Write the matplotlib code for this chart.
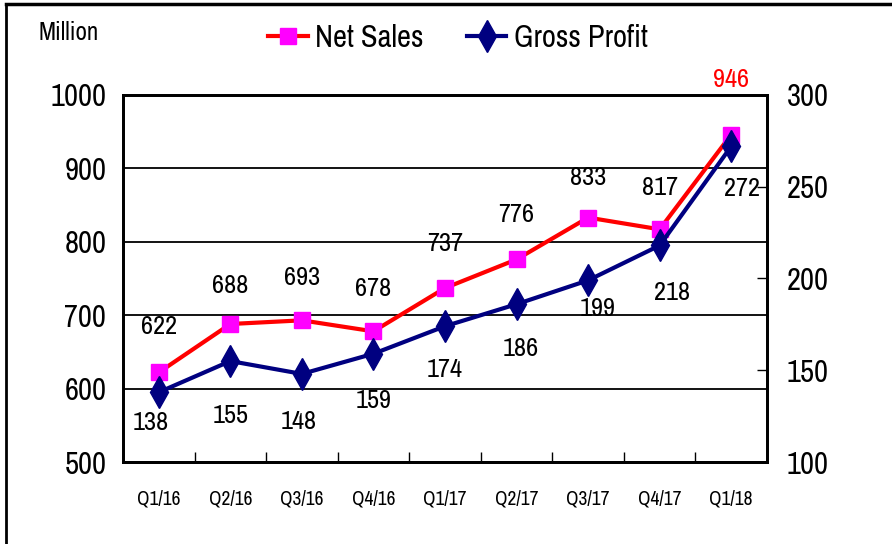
import matplotlib.pyplot as plt
from matplotlib import font_manager
from matplotlib.lines import Line2D

# pick a narrow/condensed face if one is installed (reference uses a condensed font)
names = {f.name for f in font_manager.fontManager.ttflist}
narrow = [f.name for f in font_manager.fontManager.ttflist
          if 'Narrow' in f.name or 'Condensed' in f.name]
stretch = 'normal'
if 'Liberation Sans Narrow' in names:
    family = 'Liberation Sans Narrow'
elif narrow:
    family = sorted(narrow)[0]
else:
    family = 'DejaVu Sans'
plt.rcParams['font.family'] = [family, 'DejaVu Sans']

quarters = ['Q1/16', 'Q2/16', 'Q3/16', 'Q4/16', 'Q1/17', 'Q2/17', 'Q3/17', 'Q4/17', 'Q1/18']
net_sales = [622, 688, 693, 678, 737, 776, 833, 817, 946]
gross_profit = [138, 155, 148, 159, 174, 186, 199, 218, 272]

# label offsets in points (dx, dy)
ns_off = [(0, 33), (0, 28), (0, 31), (0, 31), (0, 32), (0, 32), (0, 29), (0, 30), (0, 40)]
gp_off = [(-6, -22), (0, -39), (-2, -34), (0, -34), (0, -31), (3, -32), (7, -20), (9, -34), (8, -30)]

fig = plt.figure(figsize=(8.92, 5.44), dpi=100)
ax = fig.add_axes([123 / 892, 82 / 544, 644 / 892, 367 / 544])
ax2 = ax.twinx()

x = list(range(len(quarters)))

ax.plot(x, net_sales, color='red', lw=3, marker='s', ms=12,
        mfc='magenta', mec='magenta', zorder=3)
ax2.plot(x, gross_profit, color='#000080', lw=3, marker='d', ms=16,
         mfc='#000080', mec='#000080', zorder=3)

ax.set_xlim(-0.5, len(quarters) - 0.5)
ax.set_ylim(500, 1000)
ax2.set_ylim(100, 300)
ax.set_yticks(range(500, 1001, 100))
ax2.set_yticks(range(100, 301, 50))
ax.grid(axis='y', color='black', lw=1.3)
ax.set_axisbelow(True)

ax.set_xticks(x)
ax.set_xticklabels(quarters, fontsize=14)
ax.set_xticks([i + 0.5 for i in x[:-1]], minor=True)
ax.tick_params(axis='x', which='major', length=0, pad=20)
ax.tick_params(axis='x', which='minor', direction='in', length=7, width=1)
ax.tick_params(axis='y', length=0, labelsize=22, pad=12)
ax2.tick_params(axis='y', direction='in', length=7, width=1, labelsize=22, pad=14)

for a in (ax, ax2):
    for s in a.spines.values():
        s.set_linewidth(2)
        s.set_color('black')

for i, v in enumerate(net_sales):
    ax.annotate(str(v), (i, v), xytext=ns_off[i], textcoords='offset points',
                ha='center', va='center', fontsize=19,
                color='red' if i == len(net_sales) - 1 else 'black')
for i, v in enumerate(gross_profit):
    ax2.annotate(str(v), (i, v), xytext=gp_off[i], textcoords='offset points',
                 ha='center', va='center', fontsize=19)

fig.text(38 / 892, 1 - 33 / 544, 'Million', fontsize=18, va='center')

handles = [
    Line2D([], [], color='red', lw=3, marker='s', ms=12, mfc='magenta', mec='magenta'),
    Line2D([], [], color='#000080', lw=3, marker='d', ms=16, mfc='#000080', mec='#000080'),
]
fig.legend(handles, ['Net Sales', 'Gross Profit'], loc='center', ncol=2,
           bbox_to_anchor=(458 / 892, 1 - 38 / 544), frameon=False, fontsize=22,
           handlelength=1.3, handletextpad=0.25, columnspacing=1.4)

# outer frame (left and top edges visible)
fig.add_artist(Line2D([6 / 892, 6 / 892], [0, 1 - 4 / 544], color='black', lw=2,
                      transform=fig.transFigure))
fig.add_artist(Line2D([6 / 892, 1], [1 - 4 / 544, 1 - 4 / 544], color='black', lw=2.5,
                      transform=fig.transFigure))

fig.savefig('out.png', dpi=100)
